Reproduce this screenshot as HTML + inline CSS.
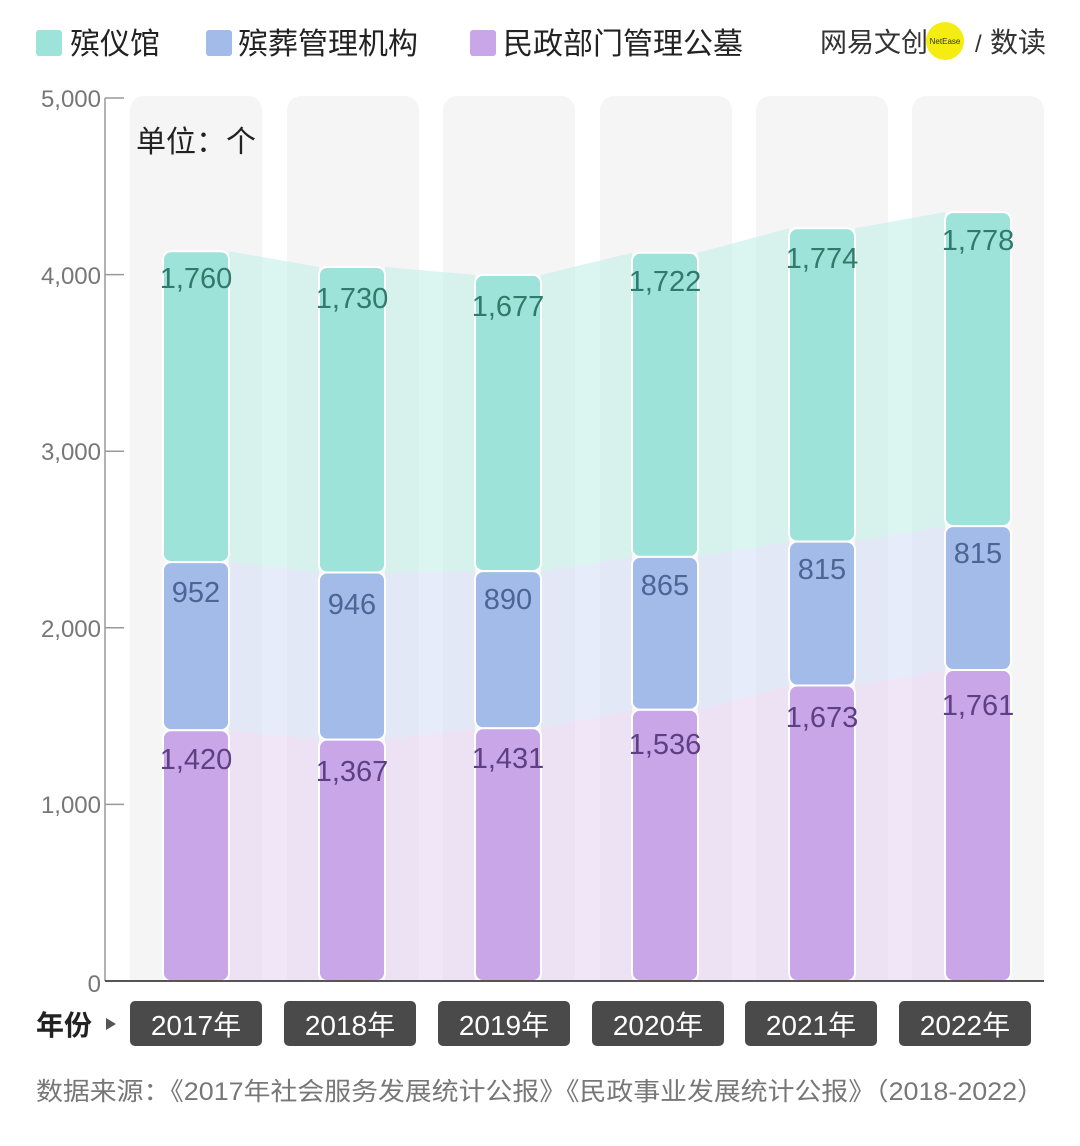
<!DOCTYPE html>
<html><head><meta charset="utf-8">
<style>
html,body{margin:0;padding:0;background:#fff;}
svg{display:block;}
text{font-family:"Liberation Sans","Noto Sans CJK SC",sans-serif;}
</style></head>
<body>
<svg width="1080" height="1146" viewBox="0 0 1080 1146" xmlns="http://www.w3.org/2000/svg">
<defs><clipPath id="c"><rect x="0" y="0" width="1080" height="981"/></clipPath></defs>
<!-- legend -->
<rect x="36" y="30" width="26" height="26" rx="3" fill="#9ee3d9"/>
<text x="70" y="54" font-size="30" fill="#222">殡仪馆</text>
<rect x="206" y="30" width="26" height="26" rx="3" fill="#a3bbe8"/>
<text x="238" y="54" font-size="30" fill="#222">殡葬管理机构</text>
<rect x="470" y="30" width="26" height="26" rx="3" fill="#c8a6e8"/>
<text x="503" y="54" font-size="30" fill="#222">民政部门管理公墓</text>
<text x="820" y="52" font-size="27" fill="#333">网易文创</text>
<circle cx="945" cy="41" r="19" fill="#f5ec12"/>
<text x="945" y="44" font-size="8" fill="#333" text-anchor="middle">NetEase</text>
<text x="975" y="52" font-size="24" fill="#333">/</text>
<text x="990" y="52" font-size="28" fill="#333">数读</text>

<!-- bg columns -->
<g fill="#f5f5f5" clip-path="url(#c)">
<rect x="130" y="96" width="132" height="900" rx="14"/>
<rect x="287" y="96" width="132" height="900" rx="14"/>
<rect x="443" y="96" width="132" height="900" rx="14"/>
<rect x="600" y="96" width="132" height="900" rx="14"/>
<rect x="756" y="96" width="132" height="900" rx="14"/>
<rect x="912" y="96" width="132" height="900" rx="14"/>
</g>
<text x="136" y="152" font-size="30" fill="#222">单位：个</text>

<!-- bands -->
<g fill-opacity="0.6">
<polygon fill="#c3eee6" points="229,251.3 319,267 319,572.5 229,562.1"/>
<polygon fill="#c3eee6" points="385,267 475,274.9 475,571.1 385,572.5"/>
<polygon fill="#c3eee6" points="541,274.9 632,252.8 632,556.9 541,571.1"/>
<polygon fill="#c3eee6" points="698,252.8 789,228.3 789,541.6 698,556.9"/>
<polygon fill="#c3eee6" points="855,228.3 945,212.1 945,526.1 855,541.6"/>

<polygon fill="#d6e0f5" points="229,562.1 319,572.5 319,739.6 229,730.2"/>
<polygon fill="#d6e0f5" points="385,572.5 475,571.1 475,728.3 385,739.6"/>
<polygon fill="#d6e0f5" points="541,571.1 632,556.9 632,709.7 541,728.3"/>
<polygon fill="#d6e0f5" points="698,556.9 789,541.6 789,685.5 698,709.7"/>
<polygon fill="#d6e0f5" points="855,541.6 945,526.1 945,670 855,685.5"/>

<polygon fill="#e6d6f3" points="229,730.2 319,739.6 319,981 229,981"/>
<polygon fill="#e6d6f3" points="385,739.6 475,728.3 475,981 385,981"/>
<polygon fill="#e6d6f3" points="541,728.3 632,709.7 632,981 541,981"/>
<polygon fill="#e6d6f3" points="698,709.7 789,685.5 789,981 698,981"/>
<polygon fill="#e6d6f3" points="855,685.5 945,670 945,981 855,981"/>
</g>

<!-- bars -->
<g stroke="#fff" stroke-width="2">
<rect x="163" y="251.3" width="66" height="310.8" rx="8" fill="#9ee3d9"/>
<rect x="163" y="562.1" width="66" height="168.1" rx="8" fill="#a3bbe8"/>
<rect x="163" y="730.2" width="66" height="251" rx="8" fill="#c8a6e8"/>

<rect x="319" y="267" width="66" height="305.5" rx="8" fill="#9ee3d9"/>
<rect x="319" y="572.5" width="66" height="167.1" rx="8" fill="#a3bbe8"/>
<rect x="319" y="739.6" width="66" height="241.4" rx="8" fill="#c8a6e8"/>

<rect x="475" y="274.9" width="66" height="296.2" rx="8" fill="#9ee3d9"/>
<rect x="475" y="571.1" width="66" height="157.2" rx="8" fill="#a3bbe8"/>
<rect x="475" y="728.3" width="66" height="252.7" rx="8" fill="#c8a6e8"/>

<rect x="632" y="252.8" width="66" height="304.1" rx="8" fill="#9ee3d9"/>
<rect x="632" y="556.9" width="66" height="152.8" rx="8" fill="#a3bbe8"/>
<rect x="632" y="709.7" width="66" height="271.3" rx="8" fill="#c8a6e8"/>

<rect x="789" y="228.3" width="66" height="313.3" rx="8" fill="#9ee3d9"/>
<rect x="789" y="541.6" width="66" height="143.9" rx="8" fill="#a3bbe8"/>
<rect x="789" y="685.5" width="66" height="295.5" rx="8" fill="#c8a6e8"/>

<rect x="945" y="212.1" width="66" height="314" rx="8" fill="#9ee3d9"/>
<rect x="945" y="526.1" width="66" height="143.9" rx="8" fill="#a3bbe8"/>
<rect x="945" y="670" width="66" height="311" rx="8" fill="#c8a6e8"/>
</g>

<!-- labels -->
<g font-size="29" text-anchor="middle">
<g fill="#2f7a6c">
<text x="196" y="288">1,760</text><text x="352" y="308">1,730</text><text x="508" y="316">1,677</text>
<text x="665" y="291">1,722</text><text x="822" y="268">1,774</text><text x="978" y="250">1,778</text>
</g>
<g fill="#4d6594">
<text x="196" y="602">952</text><text x="352" y="614">946</text><text x="508" y="609">890</text>
<text x="665" y="595">865</text><text x="822" y="579">815</text><text x="978" y="563">815</text>
</g>
<g fill="#5e3f82">
<text x="196" y="769">1,420</text><text x="352" y="781">1,367</text><text x="508" y="768">1,431</text>
<text x="665" y="754">1,536</text><text x="822" y="727">1,673</text><text x="978" y="715">1,761</text>
</g>
</g>

<!-- axes -->
<line x1="105" y1="98" x2="105" y2="981" stroke="#999" stroke-width="1.5"/>
<g stroke="#999" stroke-width="1.5">
<line x1="105" y1="98" x2="124" y2="98"/>
<line x1="105" y1="274.6" x2="124" y2="274.6"/>
<line x1="105" y1="451.2" x2="124" y2="451.2"/>
<line x1="105" y1="627.8" x2="124" y2="627.8"/>
<line x1="105" y1="804.4" x2="124" y2="804.4"/>
</g>
<line x1="105" y1="981" x2="1044" y2="981" stroke="#555" stroke-width="2"/>
<g font-size="24" fill="#777" text-anchor="end">
<text x="101" y="107">5,000</text>
<text x="101" y="284">4,000</text>
<text x="101" y="460">3,000</text>
<text x="101" y="637">2,000</text>
<text x="101" y="813">1,000</text>
<text x="101" y="992">0</text>
</g>

<!-- year labels -->
<text x="36" y="1035" font-size="28" fill="#222" font-weight="bold">年份</text>
<polygon points="106,1018 116,1024 106,1030" fill="#555"/>
<g fill="#4a4a4a">
<rect x="130" y="1001" width="132" height="45" rx="5"/>
<rect x="284" y="1001" width="132" height="45" rx="5"/>
<rect x="438" y="1001" width="132" height="45" rx="5"/>
<rect x="592" y="1001" width="132" height="45" rx="5"/>
<rect x="745" y="1001" width="132" height="45" rx="5"/>
<rect x="899" y="1001" width="132" height="45" rx="5"/>
</g>
<g font-size="28" fill="#fff" text-anchor="middle">
<text x="196" y="1035">2017年</text>
<text x="350" y="1035">2018年</text>
<text x="504" y="1035">2019年</text>
<text x="658" y="1035">2020年</text>
<text x="811" y="1035">2021年</text>
<text x="965" y="1035">2022年</text>
</g>

<text x="36" y="1100" font-size="25" fill="#777" textLength="1008" lengthAdjust="spacingAndGlyphs">数据来源：《2017年社会服务发展统计公报》《民政事业发展统计公报》（2018-2022）</text>
</svg>
</body></html>
